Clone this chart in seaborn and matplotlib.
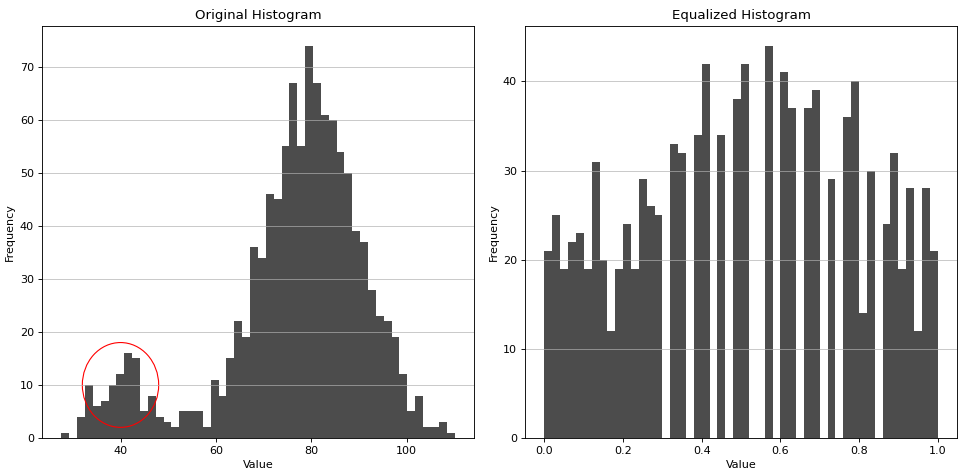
import numpy as np
import pandas as pd
import matplotlib
matplotlib.use('Agg')
import matplotlib.pyplot as plt
import seaborn as sns
from matplotlib.patches import Circle

# Số đếm theo bin (50 bin)
orig_counts = [1, 0, 4, 10, 6, 7, 10, 12, 16, 15,
               5, 8, 4, 3, 2, 5, 5, 5, 2, 11,
               8, 15, 22, 19, 36, 34, 46, 45, 55, 67,
               55, 74, 67, 61, 60, 54, 50, 39, 37, 28,
               23, 22, 19, 12, 5, 8, 2, 2, 3, 1]
orig_min, orig_max = 27.6, 110.0

eq_counts = [21, 25, 19, 22, 23, 19, 31, 20, 12, 19,
             24, 19, 29, 26, 25, 0, 33, 32, 0, 34,
             42, 0, 34, 0, 38, 42, 0, 0, 44, 0,
             41, 37, 0, 37, 39, 0, 29, 0, 36, 40,
             14, 30, 0, 24, 32, 19, 28, 12, 28, 21]
eq_min, eq_max = 0.0, 1.0

# vùng khoanh đỏ
circle_center = (40, 10)
circle_radius = 8

n_bins = len(orig_counts)
orig_edges = np.linspace(orig_min, orig_max, n_bins + 1)
eq_edges = np.linspace(eq_min, eq_max, n_bins + 1)

orig_df = pd.DataFrame({'Value': (orig_edges[:-1] + orig_edges[1:]) / 2, 'Count': orig_counts})
eq_df = pd.DataFrame({'Value': (eq_edges[:-1] + eq_edges[1:]) / 2, 'Count': eq_counts})

fig, axes = plt.subplots(1, 2, figsize=(958 / 80, 475 / 80), dpi=80)
fig.subplots_adjust(left=0.0435, right=0.9993, bottom=0.078, top=0.945, wspace=0.117)

# Histogram gốc
ax = axes[0]
sns.histplot(data=orig_df, x='Value', weights='Count', bins=list(orig_edges),
             color='black', alpha=0.7, linewidth=0, ax=ax)
ax.add_patch(Circle(circle_center, circle_radius, fill=False, color='red'))
ax.set_title('Original Histogram')
ax.set_xlabel('Value')
ax.set_ylabel('Frequency')
ax.grid(axis='y', alpha=0.75)

# Histogram sau cân bằng
ax = axes[1]
sns.histplot(data=eq_df, x='Value', weights='Count', bins=list(eq_edges),
             color='black', alpha=0.7, linewidth=0, ax=ax)
ax.set_title('Equalized Histogram')
ax.set_xlabel('Value')
ax.set_ylabel('Frequency')
ax.grid(axis='y', alpha=0.75)

plt.savefig('out.png')
